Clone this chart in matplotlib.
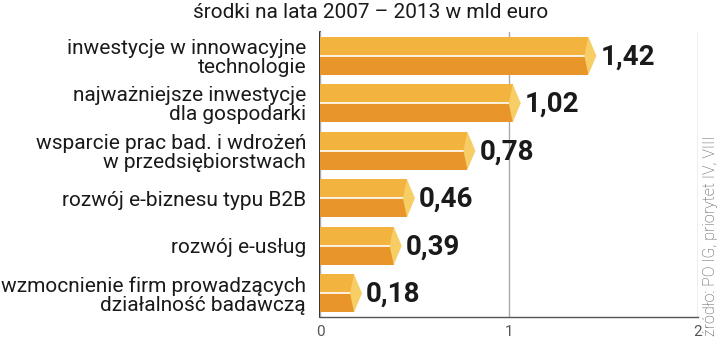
import numpy as np
import matplotlib
matplotlib.use("Agg")
from matplotlib import pyplot as plt
from matplotlib.patches import Polygon

plt.rcParams["font.family"] = ["Roboto", "DejaVu Sans"]

categories = [
    "inwestycje w innowacyjne\ntechnologie",
    "najważniejsze inwestycje\ndla gospodarki",
    "wsparcie prac bad. i wdrożeń\nw przedsiębiorstwach",
    "rozwój e-biznesu typu B2B",
    "rozwój e-usług",
    "wzmocnienie firm prowadzących\ndziałalność badawczą",
]
values = [1.42, 1.02, 0.78, 0.46, 0.39, 0.18]
value_labels = ["1,42", "1,02", "0,78", "0,46", "0,39", "0,18"]

c_top = "#F3B33F"
c_bot = "#E8962A"
c_cap = "#F7CD66"

fig = plt.figure(figsize=(7.2, 3.41), dpi=100)
ax = fig.add_axes([320 / 720, 24 / 341, 378 / 720, 285 / 341])
ax.set_xlim(0, 2)
ax.set_ylim(5.5, -0.5)

px = 2 / 378  # data units per pixel in x
h = 0.8
ys = np.arange(len(values))

for y, v, lab in zip(ys, values, value_labels):
    ax.barh(y - h / 4, v, height=h / 2, color=c_top, zorder=3)
    ax.barh(y + h / 4, v, height=h / 2, color=c_bot, zorder=3)
    ax.plot([0, v - 3 * px], [y, y], color="white", lw=1.2, zorder=4)
    # pointed left end
    ax.add_patch(Polygon([(0, y - h / 2), (-4 * px, y), (0, y + h / 2)],
                         closed=True, color=c_top, zorder=3, lw=0))
    ax.add_patch(Polygon([(-4 * px, y), (0, y), (0, y + h / 2)],
                         closed=True, color=c_bot, zorder=3, lw=0))
    # end cap
    ax.add_patch(Polygon([(v, y - h / 2), (v + 8 * px, y), (v, y + h / 2),
                          (v - 4 * px, y)],
                         closed=True, color=c_cap, zorder=5, lw=0))
    ax.text(v + 12 * px, y + 0.02, lab, fontsize=20, fontweight="bold",
            color="#1a1a1a", va="center", ha="left", zorder=6)

ax.set_yticks(ys)
ax.set_yticklabels(categories, fontsize=15, color="#1a1a1a", linespacing=1.0)
ax.tick_params(axis="y", length=0, pad=10)

ax.set_xticks([0, 1, 2])
ax.set_xticklabels(["0", "1", "2"], fontsize=11, color="#555555")
ax.tick_params(axis="x", length=0, pad=6)
ax.grid(axis="x", color="#aaaaaa", lw=1, zorder=0)

for s in ["top", "right"]:
    ax.spines[s].set_visible(False)
ax.spines["left"].set_color("#111111")
ax.spines["left"].set_linewidth(1.2)
ax.spines["left"].set_zorder(1)
ax.spines["bottom"].set_color("#555555")
ax.spines["bottom"].set_linewidth(1)

fig.text(371 / 720, 1 - 13 / 341, "środki na lata 2007 – 2013 w mld euro",
         fontsize=15, color="#1a1a1a", ha="center", va="center")
fig.text(710 / 720, 1 - 336 / 341, "źródło: PO IG, priorytet IV, VIII",
         fontsize=11.5, color="#4a4a4a", rotation=90, ha="center", va="bottom",
         fontweight="light")

fig.savefig("out.png", dpi=100)
